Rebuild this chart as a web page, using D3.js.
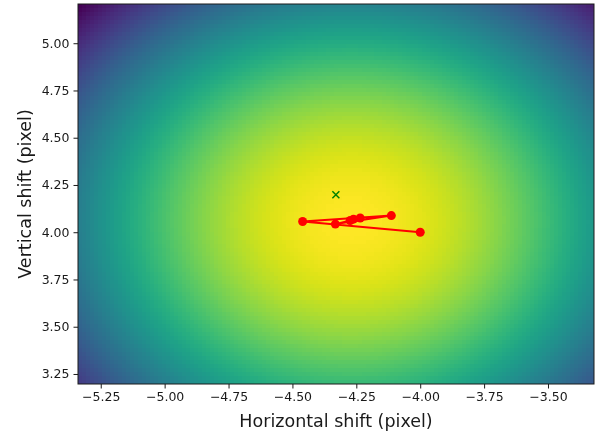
<!DOCTYPE html>
<html>
<head>
<meta charset="utf-8">
<script src="https://cdn.jsdelivr.net/npm/d3@7"></script>
<style>
  body { margin: 0; background: white; }
  #wrap { position: relative; width: 600px; height: 437px; }
  canvas, svg { position: absolute; left: 0; top: 0; }
  text { font-family: "DejaVu Sans", sans-serif; fill: #1a1a1a; }
</style>
</head>
<body>
<div id="wrap"></div>
<script>
// Chart size and plot area (pixels)
const width = 600;
const height = 437;
const margin = { top: 4, right: 6, bottom: 53, left: 78 };

// Axis extents (data units) and ticks
const xExtent = [-5.339, -3.32];
const yExtent = [3.197, 5.2075];
const xTicks = [-5.25, -5.0, -4.75, -4.5, -4.25, -4.0, -3.75, -3.5];
const yTicks = [3.25, 3.5, 3.75, 4.0, 4.25, 4.5, 4.75, 5.0];

// Surface parameters for the background map (peak position and spread)
const peakX = -4.27;
const peakY = 4.06;
const spreadX = 1.55;
const spreadY = 1.7;
const gridCols = 129;
const gridRows = 95;

// Optimisation path (red) and reference point (green cross)
const pathX = [-4.00, -4.46, -4.113, -4.332, -4.235, -4.274, -4.261];
const pathY = [4.00, 4.057, 4.088, 4.043, 4.075, 4.062, 4.069];
const refX = -4.33;
const refY = 4.198;

const wrap = d3.select("#wrap");

const x = d3.scaleLinear().domain(xExtent).range([margin.left, width - margin.right]);
const y = d3.scaleLinear().domain(yExtent).range([height - margin.bottom, margin.top]);

// Background surface drawn on a canvas
const canvas = wrap.append("canvas")
  .attr("width", width)
  .attr("height", height)
  .node();
const ctx = canvas.getContext("2d");

const stepX = (xExtent[1] - xExtent[0]) / gridCols;
const stepY = (yExtent[1] - yExtent[0]) / gridRows;
const cells = [];
d3.range(gridRows).forEach(j => d3.range(gridCols).forEach(i => {
  const cx = xExtent[0] + (i + 0.5) * stepX;
  const cy = yExtent[0] + (j + 0.5) * stepY;
  const q = ((cx - peakX) / spreadX) ** 2 + ((cy - peakY) / spreadY) ** 2;
  cells.push({ cx, cy, v: Math.exp(-0.5 * q) });
}));
const color = d3.scaleSequential(d3.interpolateViridis).domain(d3.extent(cells, d => d.v));

cells.forEach(d => {
  const x0 = Math.round(x(d.cx - stepX / 2)), x1 = Math.round(x(d.cx + stepX / 2));
  const y0 = Math.round(y(d.cy + stepY / 2)), y1 = Math.round(y(d.cy - stepY / 2));
  ctx.fillStyle = color(d.v);
  ctx.fillRect(x0, y0, x1 - x0, y1 - y0);
});

// SVG overlay: axes, labels, marks
const svg = wrap.append("svg")
  .attr("width", width)
  .attr("height", height);

const fmt = d3.format(".2f");

const xAxis = svg.append("g")
  .attr("transform", `translate(0,${height - margin.bottom})`)
  .call(d3.axisBottom(x).tickValues(xTicks).tickFormat(fmt).tickSize(4.5).tickPadding(4));

const yAxis = svg.append("g")
  .attr("transform", `translate(${margin.left},0)`)
  .call(d3.axisLeft(y).tickValues(yTicks).tickFormat(fmt).tickSize(4.5).tickPadding(4));

[xAxis, yAxis].forEach(g => {
  g.select(".domain").remove();
  g.selectAll("text").style("font-size", "12.5px").style("fill", "#1a1a1a");
  g.selectAll("line").attr("stroke", "#1a1a1a").attr("stroke-width", 1);
});

// Plot frame
svg.append("rect")
  .attr("x", margin.left)
  .attr("y", margin.top)
  .attr("width", width - margin.left - margin.right)
  .attr("height", height - margin.top - margin.bottom)
  .attr("fill", "none")
  .attr("stroke", "#1a1a1a")
  .attr("stroke-width", 1);

// Axis titles
svg.append("text")
  .attr("x", (margin.left + width - margin.right) / 2)
  .attr("y", 427)
  .attr("text-anchor", "middle")
  .style("font-size", "17.5px")
  .text("Horizontal shift (pixel)");

svg.append("text")
  .attr("transform", `translate(31,${(margin.top + height - margin.bottom) / 2}) rotate(-90)`)
  .attr("text-anchor", "middle")
  .style("font-size", "17.5px")
  .text("Vertical shift (pixel)");

// Optimisation path
const pts = pathX.map((px, i) => ({ px, py: pathY[i] }));

svg.append("path")
  .datum(pts)
  .attr("d", d3.line().x(d => x(d.px)).y(d => y(d.py)))
  .attr("fill", "none")
  .attr("stroke", "#ff0000")
  .attr("stroke-width", 2);

svg.selectAll("circle.pt")
  .data(pts)
  .enter()
  .append("circle")
  .attr("class", "pt")
  .attr("cx", d => x(d.px))
  .attr("cy", d => y(d.py))
  .attr("r", 4.5)
  .attr("fill", "#ff0000");

// Reference cross
const s = 3.5;
svg.append("path")
  .attr("d", `M${x(refX) - s},${y(refY) - s}L${x(refX) + s},${y(refY) + s}M${x(refX) - s},${y(refY) + s}L${x(refX) + s},${y(refY) - s}`)
  .attr("stroke", "#008000")
  .attr("stroke-width", 1.5)
  .attr("fill", "none");
</script>
</body>
</html>
